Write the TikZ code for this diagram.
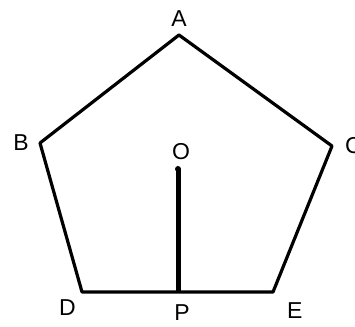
\documentclass[tikz,border=0pt]{standalone}
\usepackage{fontspec}
\setmainfont{Liberation Sans}
\usetikzlibrary{positioning}

\begin{document}
\begin{tikzpicture}[x=1pt, y=1pt, line join=round,
        side/.style={line width=3.2pt},
        radius line/.style={line width=5pt},
        lbl/.style={inner sep=0pt, font=\fontsize{23}{23}\selectfont}]
      \useasboundingbox (0,0) rectangle (355,326);
      % vertices of the pentagon
      \coordinate (A) at (179,291);
      \coordinate (B) at (40,183);
      \coordinate (C) at (332,180);
      \coordinate (D) at (82,34);
      \coordinate (E) at (273,34);
      \coordinate (O) at (178,157);
      \coordinate (P) at (178,34);
      \draw[side] (A) -- (C) -- (E) -- (D) -- (B) -- cycle;
      \draw[radius line] (O) -- (P);
      \fill (O) circle (3pt);
      % labels
      \node[lbl, above=8pt of A] (la) {A};
      \node[lbl, left=11pt of B] (lb) {B};
      \node[lbl, right=13pt of C] (lc) {C};
      \node[lbl, above=9pt of O, xshift=3pt] (lo) {O};
      \node[lbl, below left=7pt and 6pt of D] (ld) {D};
      \node[lbl, below=12pt of P, xshift=4pt] (lp) {P};
      \node[lbl, below right=10pt and 14pt of E] (le) {E};
\end{tikzpicture}
\end{document}
